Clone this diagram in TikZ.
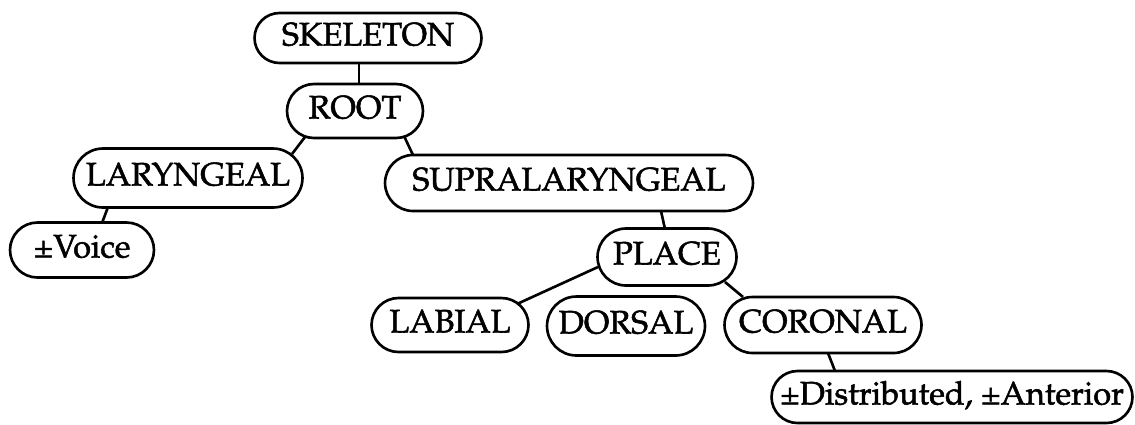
\documentclass[tikz,border=0pt]{standalone}
\usepackage[T1]{fontenc}
\usepackage{mathpazo}
\usetikzlibrary{positioning, shapes.misc}

\begin{document}
\begin{tikzpicture}[x=0.02cm, y=-0.02cm,
        feat/.style={rounded rectangle, draw=black, line width=1.5pt, inner xsep=-0.25cm, inner ysep=1pt, minimum height=1.1cm, text height=2ex, text depth=0.2ex, font=\fontsize{18.5}{20}\selectfont\special{pdf:literal direct 2 Tr 0.3 w}},
        link/.style={line width=1.5pt}]
            \useasboundingbox (0, 0) rectangle (1135, 424);
            \node[feat, minimum width=4.04cm, minimum height=1.0cm] (skeleton) at (368, 38) {SKELETON};
            \node[feat, minimum width=2.22cm, minimum height=1.08cm] (root) at (355, 111) {ROOT};
            \node[feat, minimum width=4.08cm, minimum height=1.18cm] (laryngeal) at (188, 178) {LARYNGEAL};
            \node[feat, minimum width=6.86cm, minimum height=1.12cm] (supra) at (569, 183) {SUPRALARYNGEAL\hspace{0.4cm}};
            \node[feat, minimum width=2.38cm] (voice) at (82, 250) {\textpm Voice\hspace{0.6cm}};
            \node[feat, minimum width=2.28cm, minimum height=1.14cm] (place) at (667, 257) {PLACE};
            \node[feat, minimum width=2.64cm, minimum height=1.08cm] (labial) at (450, 325) {LABIAL};
            \node[feat, minimum width=2.66cm, minimum height=1.18cm] (dorsal) at (626, 326) {DORSAL};
            \node[feat, minimum width=3.44cm, minimum height=1.12cm] (coronal) at (823, 325) {CORONAL};
            \node[feat, minimum width=6.72cm, minimum height=1.04cm] (dist) at (952, 397) {\textpm Distributed, \textpm Anterior};

            \draw[link] ([shift={(-9, 25)}]skeleton.center) -- ([shift={(4, -27)}]root.center);
            \draw[link] ([shift={(-50, 26)}]root.center) -- ([shift={(104, -24)}]laryngeal.center);
            \draw[link] ([shift={(49, 25)}]root.center) -- ([shift={(-156, -28)}]supra.center);
            \draw[link] ([shift={(-80, 29)}]laryngeal.center) -- ([shift={(20, -27)}]voice.center);
            \draw[link] ([shift={(92, 28)}]supra.center) -- ([shift={(-2, -28)}]place.center);
            \draw[link] ([shift={(-69, 10)}]place.center) -- ([shift={(67, -21)}]labial.center);
            \draw[link] ([shift={(58, 25)}]place.center) -- ([shift={(-80, -28)}]coronal.center);
            \draw[link] ([shift={(5, 28)}]coronal.center) -- ([shift={(-117, -26)}]dist.center);
        \end{tikzpicture}
\end{document}
